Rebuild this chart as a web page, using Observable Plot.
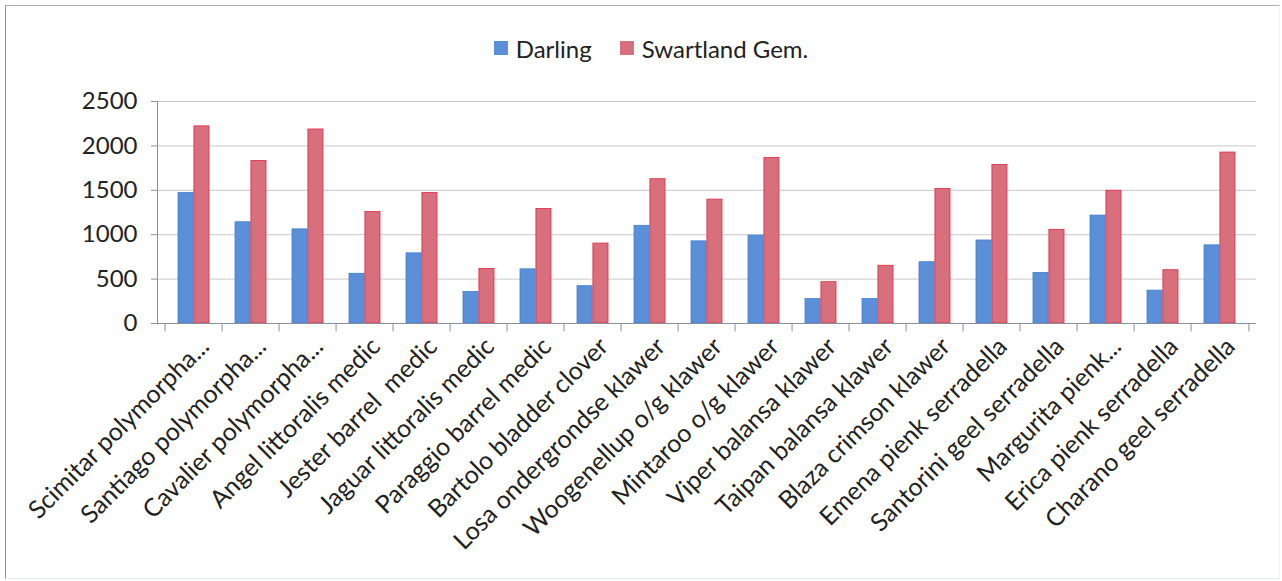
<!DOCTYPE html>
<html>
<head>
<meta charset="utf-8">
<script src="https://cdn.jsdelivr.net/npm/d3@7"></script>
<script src="https://cdn.jsdelivr.net/npm/@observablehq/plot@0.6"></script>
<style>
  html, body { margin: 0; padding: 0; background: #fff; }
  #wrap { position: relative; width: 1282px; height: 581px; overflow: hidden; }
  #frame { position: absolute; left: 5px; top: 5px; right: 2px; bottom: 2px;
           border-left: 1px solid #8d93a6; border-top: 1px solid #a9aebc;
           border-right: 1px solid #f3f4f7; border-bottom: 1px solid #e6ebf4; pointer-events: none; }
  #legend { position: absolute; top: 31px; left: 10px; width: 1282px; text-align: center;
            font-family: Lato, "Open Sans", sans-serif; font-size: 24px; color: #222; }
  #legend span.item { display: inline-flex; align-items: center; margin: 0 14px; }
  #legend span.sw { display: inline-block; width: 14px; height: 14px; margin-right: 8px; }
</style>
</head>
<body>
<div id="wrap">
  <div id="legend"></div>
</div>
<script>
const categories = [
  "Scimitar polymorpha...", "Santiago polymorpha...", "Cavalier polymorpha...",
  "Angel littoralis medic", "Jester barrel  medic", "Jaguar littoralis medic",
  "Paraggio barrel medic", "Bartolo bladder clover", "Losa ondergrondse klawer",
  "Woogenellup o/g klawer", "Mintaroo o/g klawer", "Viper balansa klawer",
  "Taipan balansa klawer", "Blaza crimson klawer", "Emena pienk serradella",
  "Santorini geel serradella", "Margurita pienk...", "Erica pienk serradella",
  "Charano geel serradella"
];
const darling = [1470, 1140, 1060, 560, 790, 355, 610, 420, 1100, 925, 990, 275, 275, 690, 935, 570, 1215, 370, 880];
const swartland = [2220, 1830, 2185, 1255, 1470, 615, 1290, 900, 1625, 1395, 1865, 465, 650, 1515, 1785, 1055, 1495, 600, 1925];
const seriesNames = ["Darling", "Swartland Gem."];
const yTicks = [0, 500, 1000, 1500, 2000, 2500];

const colors = { "Darling": "#5b90d8", "Swartland Gem.": "#d7707c" };
const strokes = { "Darling": "#3f7fd0", "Swartland Gem.": "#e0283f" };

const table = categories.map((c, i) => ({ cat: c, darling: darling[i], swartland: swartland[i] }));

const W = 1282, H = 581, mL = 157, mR = 26, mT = 101, mB = 258;
const step = (W - mL - mR) / categories.length;
const pad = 0.45;
const bw = step * (1 - pad);
const font = 'Lato, "Open Sans", sans-serif';

const chart = Plot.plot({
  width: W, height: H,
  marginLeft: mL, marginRight: mR, marginTop: mT, marginBottom: mB,
  style: { fontFamily: font, background: "transparent", overflow: "visible" },
  x: { type: "band", domain: categories, paddingInner: pad, paddingOuter: pad / 2, align: 0.5, label: null },
  y: { domain: [0, 2500], ticks: yTicks, label: null },
  marks: [
    Plot.gridY(yTicks, { stroke: "#c9c9c9", strokeOpacity: 1, strokeWidth: 1 }),
    Plot.barY(table, { x: "cat", y: "darling", fill: colors["Darling"], stroke: strokes["Darling"], strokeWidth: 0.8, insetRight: bw / 2 }),
    Plot.barY(table, { x: "cat", y: "swartland", fill: colors["Swartland Gem."], stroke: strokes["Swartland Gem."], strokeWidth: 0.8, insetLeft: bw / 2 }),
    Plot.ruleY([0], { stroke: "#8a8fa0", strokeWidth: 1 }),
    Plot.frame({ anchor: "left", stroke: "#8a8fa0", strokeWidth: 1 }),
    // category separator ticks (Excel-style, between categories)
    Plot.ruleX(categories, { x: d => d, y1: 0, y2: -95, dx: -step / 2, stroke: "#8a8fa0" }),
    Plot.ruleX(categories.slice(-1), { x: d => d, y1: 0, y2: -95, dx: step / 2, stroke: "#8a8fa0" }),
    Plot.axisY({ ticks: yTicks, tickSize: 6, tickPadding: 14, fontSize: 24, stroke: "#8a8fa0", fill: "#222", tickFormat: d => String(d) }),
    Plot.axisX({ tickSize: 0, tickRotate: -45, tickPadding: 19, fontSize: 25, fill: "#222", dx: 11, dy: 0, lineWidth: 30 })
  ]
});

document.getElementById("wrap").appendChild(chart);
const fr = document.createElement("div");
fr.id = "frame";
document.getElementById("wrap").appendChild(fr);

const legend = document.getElementById("legend");
seriesNames.forEach(n => {
  const it = document.createElement("span");
  it.className = "item";
  const sw = document.createElement("span");
  sw.className = "sw";
  sw.style.background = colors[n];
  it.appendChild(sw);
  it.appendChild(document.createTextNode(n));
  legend.appendChild(it);
});
chart.style.position = "absolute";
chart.style.left = "0";
chart.style.top = "0";
</script>
</body>
</html>
